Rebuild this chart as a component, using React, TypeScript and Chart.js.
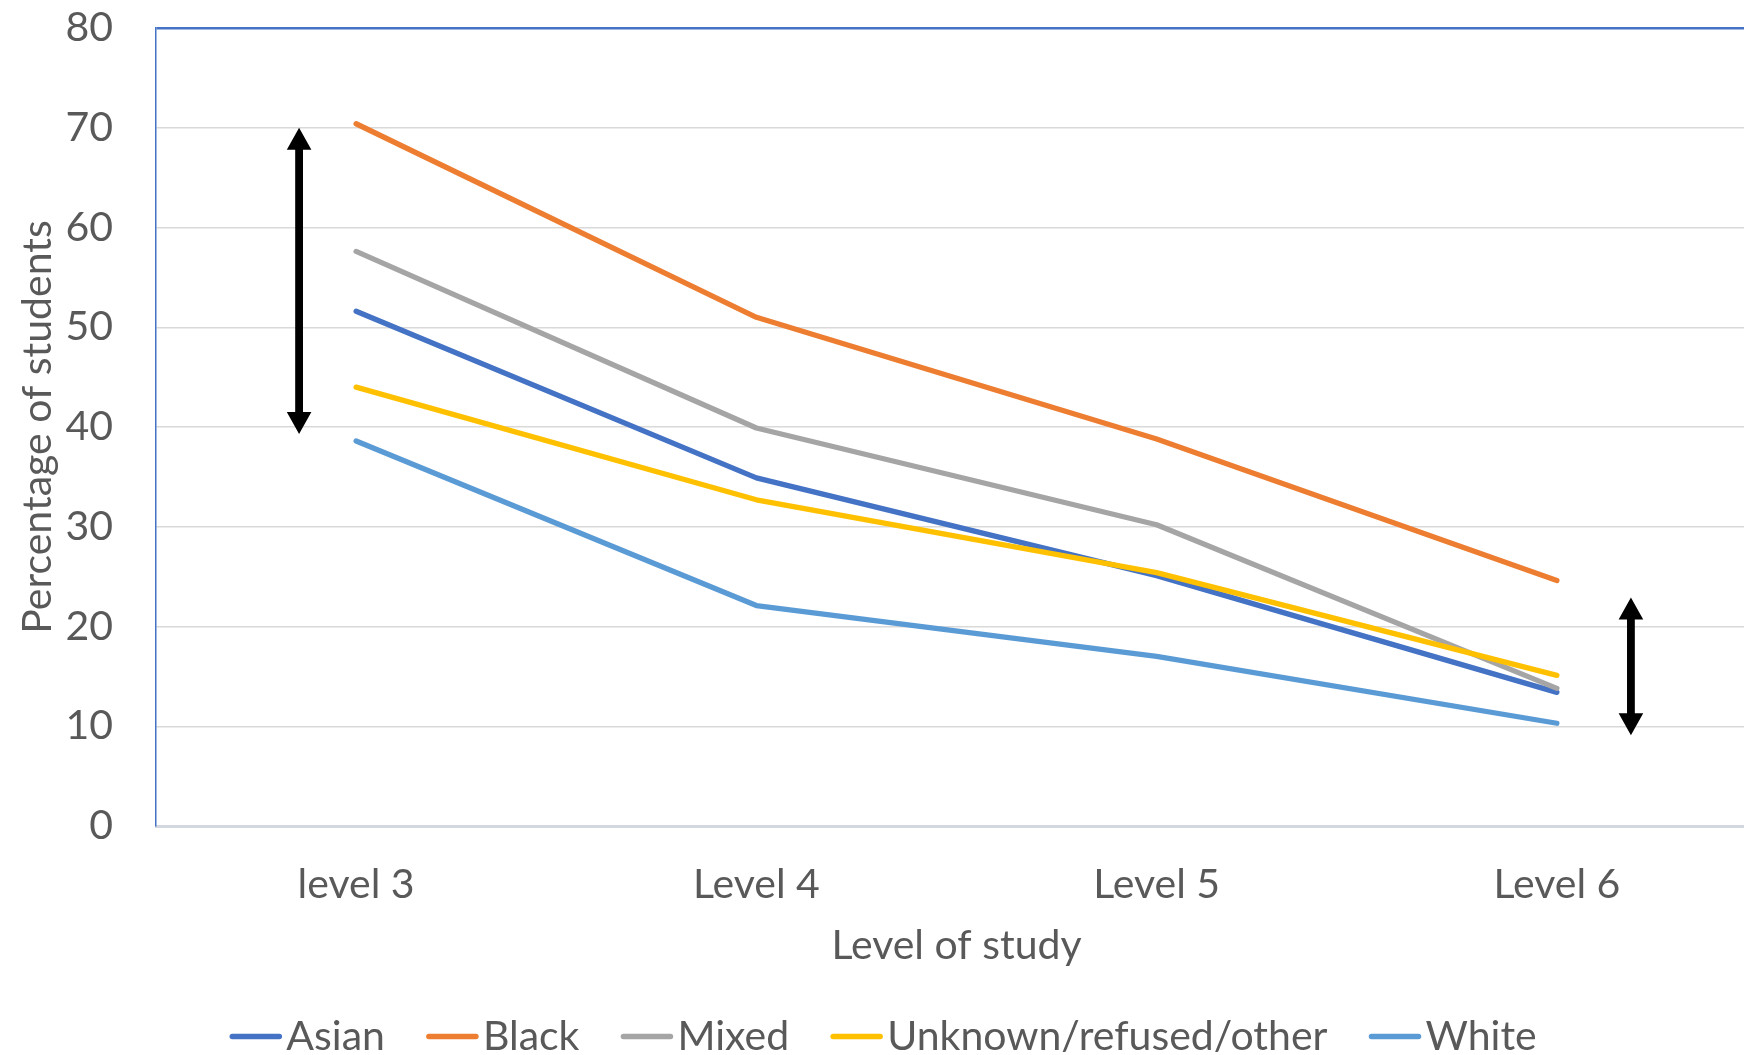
import React, { useEffect, useRef } from "react";
import { Chart, registerables } from "chart.js";

Chart.register(...registerables);

// ---- data ----
const categories = ["level 3", "Level 4", "Level 5", "Level 6"];
const seriesNames = ["Asian", "Black", "Mixed", "Unknown/refused/other", "White"];
const asianValues = [51.6, 34.9, 25.1, 13.4];
const blackValues = [70.4, 51.0, 38.8, 24.6];
const mixedValues = [57.6, 39.9, 30.2, 13.8];
const unknownValues = [44.0, 32.7, 25.4, 15.1];
const whiteValues = [38.6, 22.1, 17.0, 10.3];
const seriesColors = ["#4472C4", "#ED7D31", "#A5A5A5", "#FFC000", "#5B9BD5"];
const yMin = 0;
const yMax = 80;
const yStep = 10;
const xTitle = "Level of study";
const yTitle = "Percentage of students";
// double-headed arrow annotations (category index position, low value, high value)
const arrowCategoryPos = [-0.1425, 3.185];
const arrowLow = [39.3, 9.1];
const arrowHigh = [70.0, 22.9];

const FONT = "Lato";
const FS = 41;
const TEXT = "#595959";

const arrowPlugin = {
  id: "arrows",
  afterDatasetsDraw(chart: any) {
    const { ctx, scales } = chart;
    const xs = scales.x;
    const ys = scales.y;
    const shaft = 3.9;
    const head = 12.3;
    const hl = 22;
    ctx.save();
    ctx.fillStyle = "#000000";
    arrowCategoryPos.forEach((pos, i) => {
      const px = xs.getPixelForValue(pos);
      const top = ys.getPixelForValue(arrowHigh[i]);
      const bot = ys.getPixelForValue(arrowLow[i]);
      ctx.beginPath();
      ctx.moveTo(px, top);
      ctx.lineTo(px + head, top + hl);
      ctx.lineTo(px + shaft, top + hl);
      ctx.lineTo(px + shaft, bot - hl);
      ctx.lineTo(px + head, bot - hl);
      ctx.lineTo(px, bot);
      ctx.lineTo(px - head, bot - hl);
      ctx.lineTo(px - shaft, bot - hl);
      ctx.lineTo(px - shaft, top + hl);
      ctx.lineTo(px - head, top + hl);
      ctx.closePath();
      ctx.fill();
    });
    ctx.restore();
  },
};

const legendPlugin = {
  id: "bottomLegend",
  afterDraw(chart: any) {
    const { ctx } = chart;
    const datasets = chart.data.datasets;
    const lineLen = 53;
    const gapText = 4;
    const gapItem = 41;
    const centerX = 883;
    const lineY = 1036.5;
    const baseY = 1049.5;
    ctx.save();
    ctx.font = `${FS}px ${FONT}`;
    const widths = datasets.map((d: any) => ctx.measureText(d.label).width);
    const total =
      widths.reduce((a: number, w: number) => a + lineLen + gapText + w, 0) +
      gapItem * (datasets.length - 1);
    let x = centerX - total / 2;
    datasets.forEach((d: any, i: number) => {
      ctx.strokeStyle = d.borderColor;
      ctx.lineWidth = 5.5;
      ctx.lineCap = "round";
      ctx.beginPath();
      ctx.moveTo(x + 3, lineY);
      ctx.lineTo(x + lineLen - 3, lineY);
      ctx.stroke();
      x += lineLen + gapText;
      ctx.fillStyle = TEXT;
      ctx.textAlign = "left";
      ctx.textBaseline = "alphabetic";
      ctx.fillText(d.label, x, baseY);
      x += widths[i] + gapItem;
    });
    ctx.restore();
  },
};

export default function App() {
  const canvasRef = useRef<HTMLCanvasElement | null>(null);

  useEffect(() => {
    const canvas = canvasRef.current;
    if (!canvas) return;
    const seriesValues = [asianValues, blackValues, mixedValues, unknownValues, whiteValues];
    const chart = new Chart(canvas, {
      type: "line",
      data: {
        labels: categories,
        datasets: seriesNames.map((name, i) => ({
          label: name,
          data: seriesValues[i],
          borderColor: seriesColors[i],
          backgroundColor: seriesColors[i],
          borderWidth: 5.3,
          borderCapStyle: "round" as const,
          borderJoinStyle: "round" as const,
          pointRadius: 0,
          pointHoverRadius: 0,
          tension: 0,
          fill: false,
          order: seriesNames.length - i,
        })),
      },
      options: {
        animation: false,
        responsive: false,
        maintainAspectRatio: false,
        devicePixelRatio: 1,
        layout: { padding: { top: 28, right: 13, bottom: 0, left: 0 } },
        plugins: {
          legend: { display: false },
          tooltip: { enabled: false },
          title: { display: false },
        },
        scales: {
          x: {
            type: "category",
            offset: true,
            grid: { display: false, drawTicks: false },
            border: { display: true, color: "#D3D8E0", width: 3 },
            ticks: {
              color: TEXT,
              font: { family: FONT, size: FS },
              padding: 34,
              maxRotation: 0,
              autoSkip: false,
            },
            title: {
              display: true,
              text: xTitle,
              color: TEXT,
              font: { family: FONT, size: FS },
              padding: { top: 0, bottom: 85 },
            },
            afterFit: (scale: any) => {
              scale.height = 229;
              scale.paddingLeft = 0;
              scale.paddingRight = 0;
            },
          },
          y: {
            min: yMin,
            max: yMax,
            grid: {
              drawTicks: false,
              color: (c: any) => (c.tick && c.tick.value === yMax ? "#4472C4" : "#D9D9D9"),
              lineWidth: (c: any) => (c.tick && c.tick.value === yMax ? 2.5 : 1.5),
            },
            border: { display: true, color: "#4472C4", width: 1.5 },
            ticks: {
              stepSize: yStep,
              color: TEXT,
              font: { family: FONT, size: FS },
              padding: 43,
            },
            title: {
              display: true,
              text: yTitle,
              color: TEXT,
              font: { family: FONT, size: FS },
              padding: { top: 13, bottom: 0 },
            },
            afterFit: (scale: any) => {
              scale.width = 156;
              scale.paddingTop = 0;
              scale.paddingBottom = 0;
            },
          },
        },
      },
      plugins: [arrowPlugin, legendPlugin],
    });
    return () => chart.destroy();
  }, []);

  return (
    <div
      style={{
        position: "fixed",
        left: 0,
        top: 0,
        width: 1744,
        height: 1055,
        overflow: "hidden",
        background: "#ffffff",
      }}
    >
      <canvas
        ref={canvasRef}
        width={1770}
        height={1055}
        style={{ width: 1770, height: 1055, display: "block" }}
      />
    </div>
  );
}
